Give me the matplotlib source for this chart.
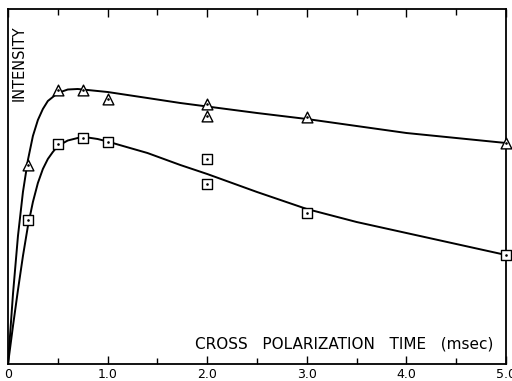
import matplotlib
matplotlib.use("Agg")
import matplotlib.pyplot as plt
from matplotlib.ticker import MultipleLocator

# Measured points
tri_x = [0.2, 0.5, 0.75, 1.0, 2.0, 2.0, 3.0, 5.0]
tri_y = [199, 274, 274, 265, 260, 248, 247, 221]
sq_x = [0.2, 0.5, 0.75, 1.0, 2.0, 2.0, 3.0, 5.0]
sq_y = [144, 220, 226, 222, 205, 180, 151, 109]

# Fitted curves
tri_curve_x = [0.0, 0.05, 0.1, 0.15, 0.2, 0.25, 0.3, 0.35, 0.4, 0.5, 0.6, 0.7, 0.8, 1.0, 1.2, 1.4, 1.73, 2.0, 2.5, 3.0, 3.5, 4.0, 4.5, 5.0]
tri_curve_y = [0, 70, 128, 172, 204, 228, 244, 255, 263, 271, 274.5, 275, 274, 272, 269, 266, 261, 257.5, 251, 245, 238, 231, 226, 221]
sq_curve_x = [0.0, 0.05, 0.1, 0.15, 0.2, 0.25, 0.3, 0.35, 0.4, 0.45, 0.5, 0.6, 0.7, 0.8, 0.9, 1.0, 1.12, 1.4, 1.73, 2.0, 2.5, 3.0, 3.5, 4.0, 4.5, 5.0]
sq_curve_y = [0, 38, 74, 108, 138, 162, 181, 195, 205, 212, 218, 223.5, 226, 226.5, 225, 222.5, 219, 211, 199, 190, 172, 155, 142, 131, 120, 109]

x_ticks = [0, 1, 2, 3, 4, 5]
x_ticklabels = ["0", "1.0", "2.0", "3.0", "4.0", "5.0"]

fig = plt.figure(figsize=(5.12, 3.81), dpi=100)
ax = fig.add_axes([8/512, 17/381, 498/512, 355/381])
ax.set_xlim(0, 5)
ax.set_ylim(0, 355)

ax.plot(tri_curve_x, tri_curve_y, color="black", lw=1.4, zorder=2)
ax.plot(sq_curve_x, sq_curve_y, color="black", lw=1.4, zorder=2)

ax.scatter(tri_x, tri_y, marker="^", s=60, facecolor="white", edgecolor="black", linewidths=1.0, zorder=3, clip_on=False)
ax.scatter(tri_x, tri_y, marker=".", s=3, color="black", zorder=4, clip_on=False)
ax.scatter(sq_x, sq_y, marker="s", s=50, facecolor="white", edgecolor="black", linewidths=1.0, zorder=3, clip_on=False)
ax.scatter(sq_x, sq_y, marker=".", s=3, color="black", zorder=4, clip_on=False)

for s in ax.spines.values():
    s.set_linewidth(1.3)

ax.set_xticks(x_ticks)
ax.set_xticklabels(x_ticklabels, fontsize=9)
ax.xaxis.set_minor_locator(MultipleLocator(0.5))
ax.tick_params(axis="x", which="both", direction="in", top=True, bottom=True, pad=3)
ax.tick_params(axis="x", which="major", length=6, width=1)
ax.tick_params(axis="x", which="minor", length=4, width=1)
ax.set_yticks([])

ax.text(0.975, 0.055, "CROSS   POLARIZATION   TIME   (msec)", transform=ax.transAxes,
        ha="right", va="center", fontsize=11)
ax.text(0.022, 0.955, "INTENSITY", transform=ax.transAxes, rotation=90,
        ha="center", va="top", fontsize=10.5)

fig.savefig("out.png", dpi=100)
